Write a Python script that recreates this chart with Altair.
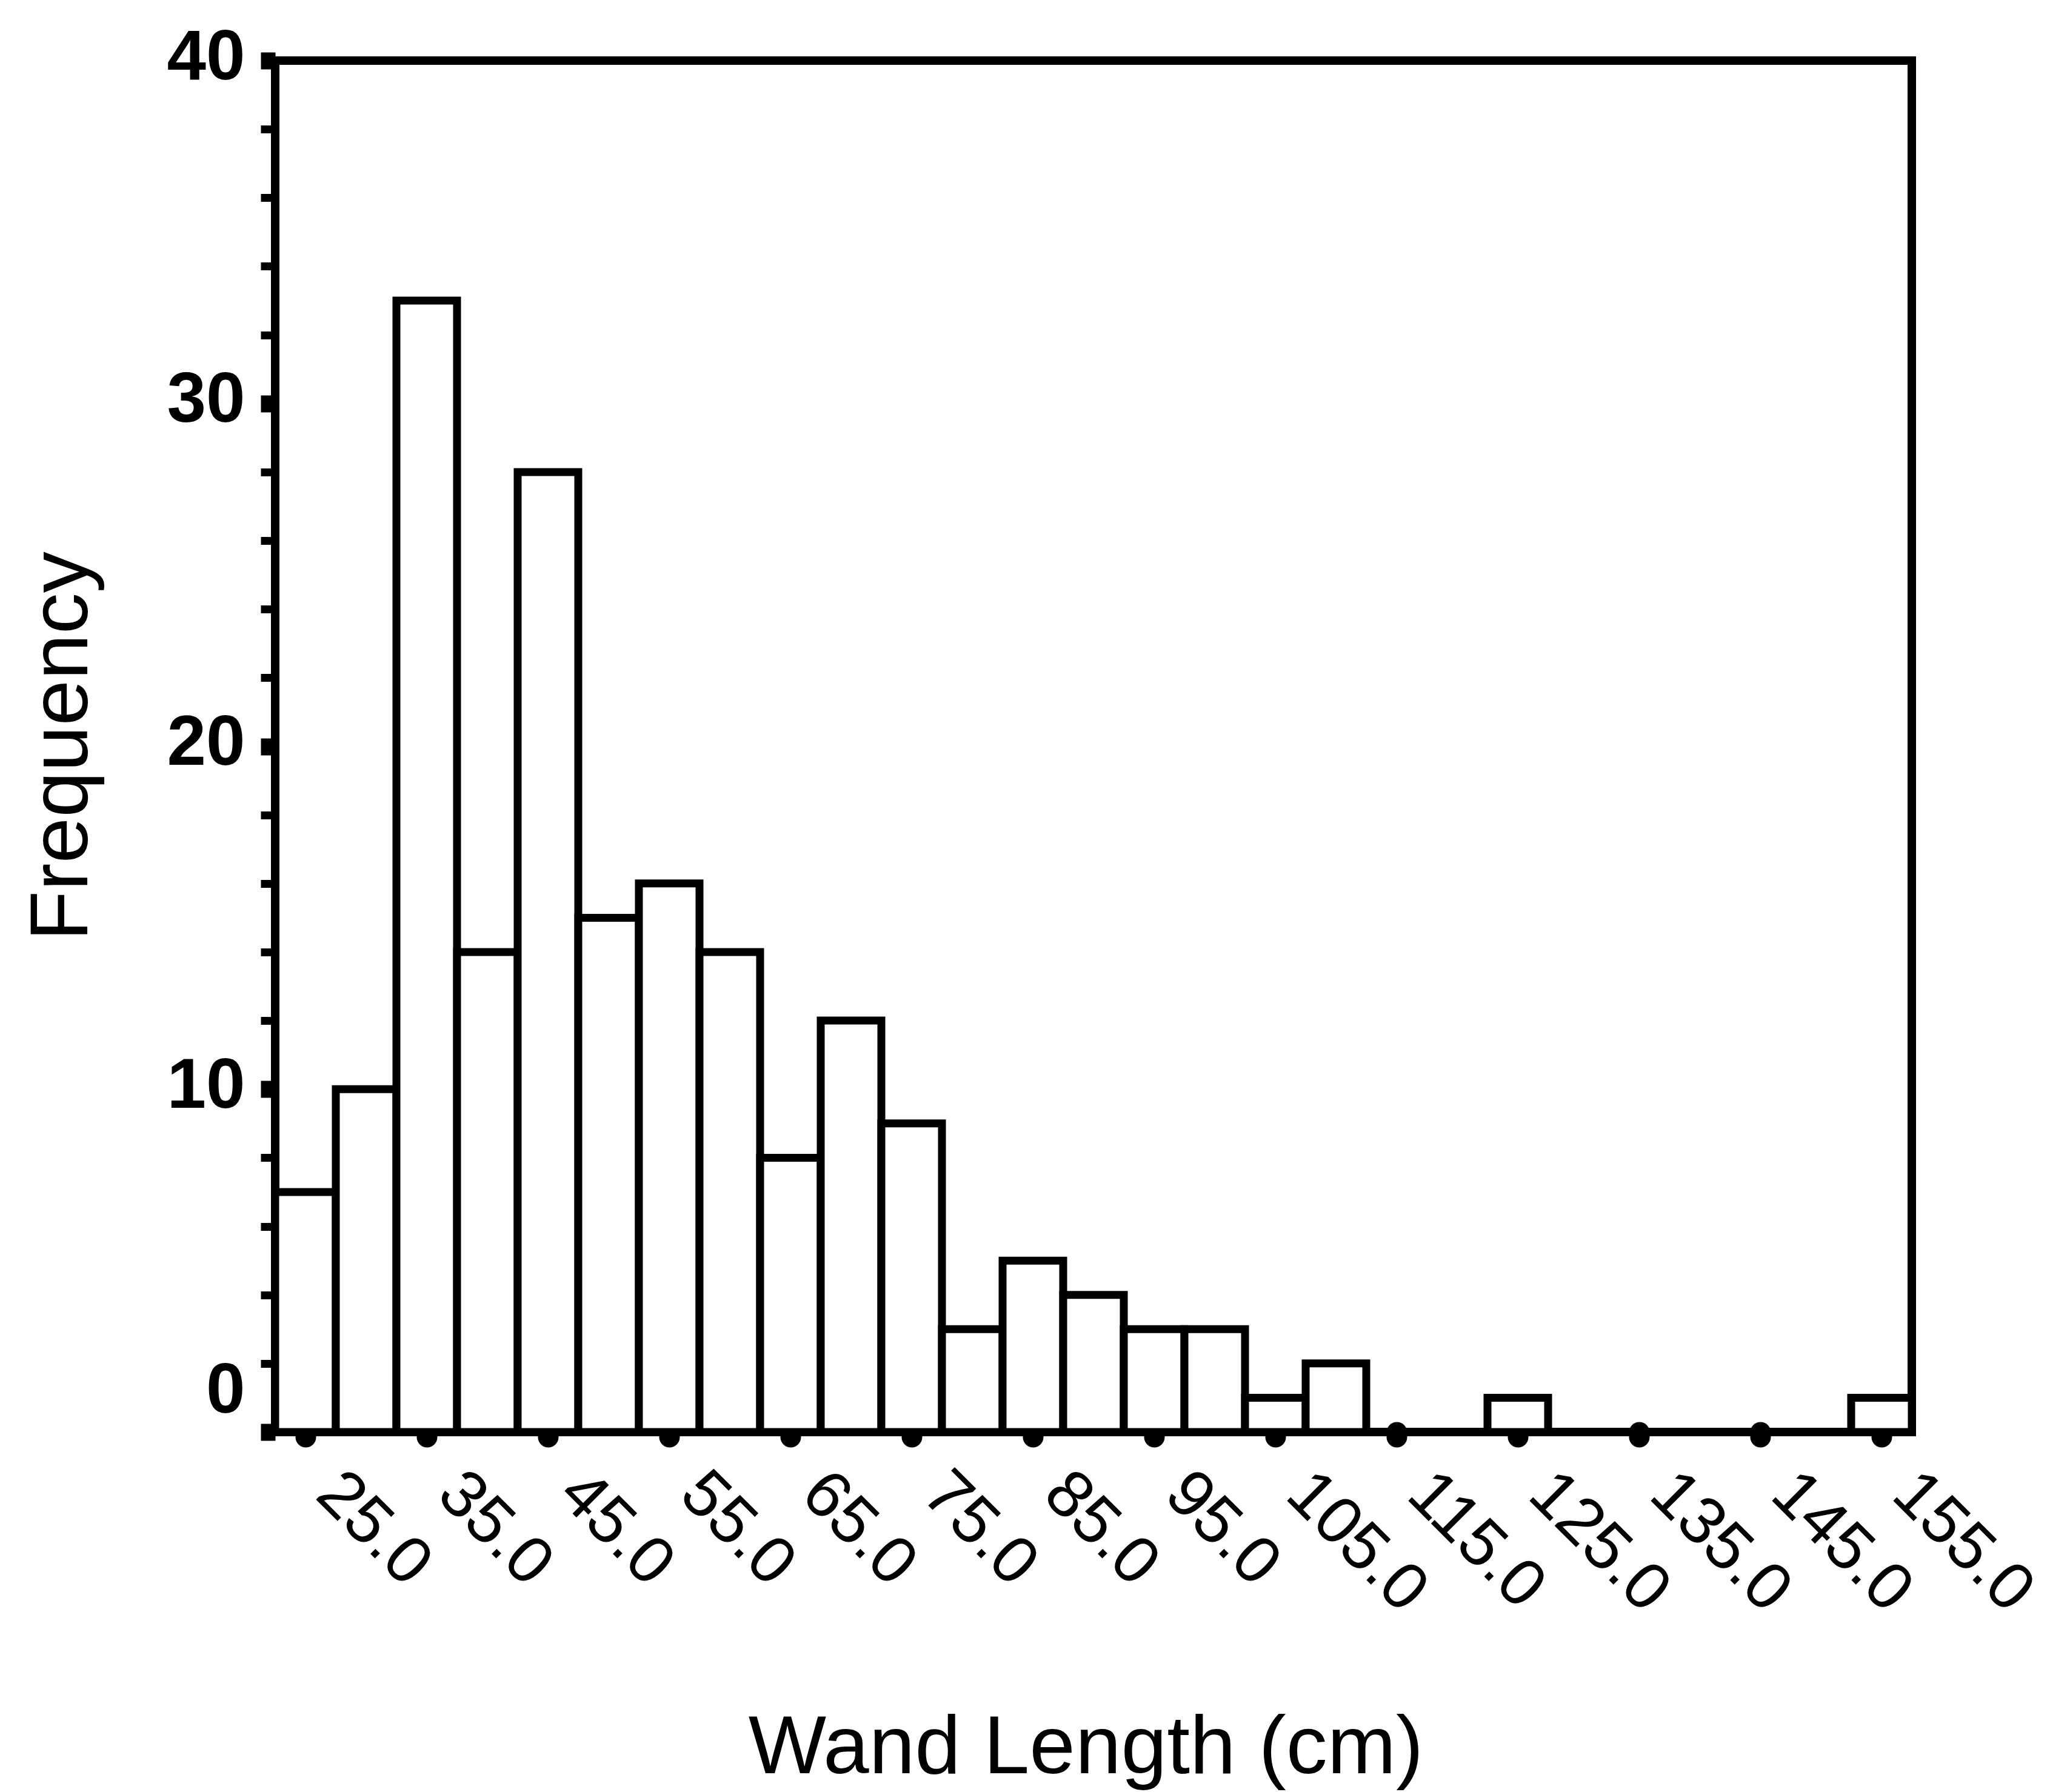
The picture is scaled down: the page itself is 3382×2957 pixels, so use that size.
import altair as alt
import pandas as pd

# Histogram bins (5 cm wide) and their frequencies
bin_lo = [22.5, 27.5, 32.5, 37.5, 42.5, 47.5, 52.5, 57.5, 62.5, 67.5, 72.5,
          77.5, 82.5, 87.5, 92.5, 97.5, 102.5, 107.5, 112.5, 117.5, 122.5,
          127.5, 132.5, 137.5, 142.5, 147.5, 152.5]
bin_hi = [27.5, 32.5, 37.5, 42.5, 47.5, 52.5, 57.5, 62.5, 67.5, 72.5, 77.5,
          82.5, 87.5, 92.5, 97.5, 102.5, 107.5, 112.5, 117.5, 122.5, 127.5,
          132.5, 137.5, 142.5, 147.5, 152.5, 157.5]
counts = [7, 10, 33, 14, 28, 15, 16, 14, 8, 12, 9,
          3, 5, 4, 3, 3, 1, 2, 0, 0, 1,
          0, 0, 0, 0, 0, 1]

x_ticks = [25, 35, 45, 55, 65, 75, 85, 95, 105, 115, 125, 135, 145, 155]
y_ticks = [0, 2, 4, 6, 8, 10, 12, 14, 16, 18, 20, 22, 24, 26, 28, 30,
           32, 34, 36, 38, 40]

df = pd.DataFrame({"lo": bin_lo, "hi": bin_hi, "freq": counts})

FONT = "Liberation Sans"

x_axis = alt.Axis(
    values=x_ticks,
    format=".1f",
    title="Wand Length (cm)",
    titleFont=FONT,
    titleFontSize=136,
    titleFontWeight="normal",
    titleColor="black",
    titleAlign="center",
    titleBaseline="alphabetic",
    titleX=1337,
    titleY=562,
    labelFont=FONT,
    labelFontSize=110,
    labelFontWeight="normal",
    labelColor="black",
    labelAngle=45,
    labelAlign="left",
    labelBaseline="alphabetic",
    labelOffset=13,
    labelPadding=99,
    labelLimit=0,
    labelFlush=False,
    labelOverlap=False,
    labelBound=False,
    tickSize=8,
    tickWidth=34,
    tickCap="round",
    tickColor="black",
    domain=False,
    grid=False,
)

y_axis = alt.Axis(
    values=y_ticks,
    labelExpr="datum.value % 10 === 0 ? datum.label : ''",
    title="Frequency",
    titleFont=FONT,
    titleFontSize=136,
    titleFontWeight="normal",
    titleColor="black",
    titleAngle=-90,
    titleAlign="center",
    titleBaseline="alphabetic",
    titleX=-311,
    titleY=1131,
    labelFont=FONT,
    labelFontSize=116,
    labelFontWeight="bold",
    labelColor="black",
    labelBaseline="middle",
    labelPadding=26,
    labelOffset={"condition": {"test": "datum.value === 0", "value": -68}, "value": -5},
    labelLimit=0,
    labelOverlap=False,
    labelBound=False,
    labelFlush=False,
    tickSize=24,
    tickWidth={"condition": {"test": "datum.value % 10 === 0", "value": 28}, "value": 13},
    tickColor="black",
    domain=False,
    grid=False,
)

chart = (
    alt.Chart(df)
    .mark_bar(fill="white", stroke="black", strokeWidth=13, strokeJoin="miter")
    .encode(
        x=alt.X("lo:Q", scale=alt.Scale(domain=[22.5, 157.5], nice=False, zero=False), axis=x_axis),
        x2="hi:Q",
        y=alt.Y("freq:Q", scale=alt.Scale(domain=[0, 40], nice=False), axis=y_axis),
        y2=alt.datum(0),
    )
    .properties(
        width=2700,
        height=2263,
        autosize=alt.AutoSizeParams(type="none"),
        padding={"left": 454, "top": 100, "right": 228, "bottom": 594},
        background="white",
    )
    .configure_view(stroke="black", strokeWidth=14)
)

chart.save("out.html", embed_options={"renderer": "svg", "actions": False})
